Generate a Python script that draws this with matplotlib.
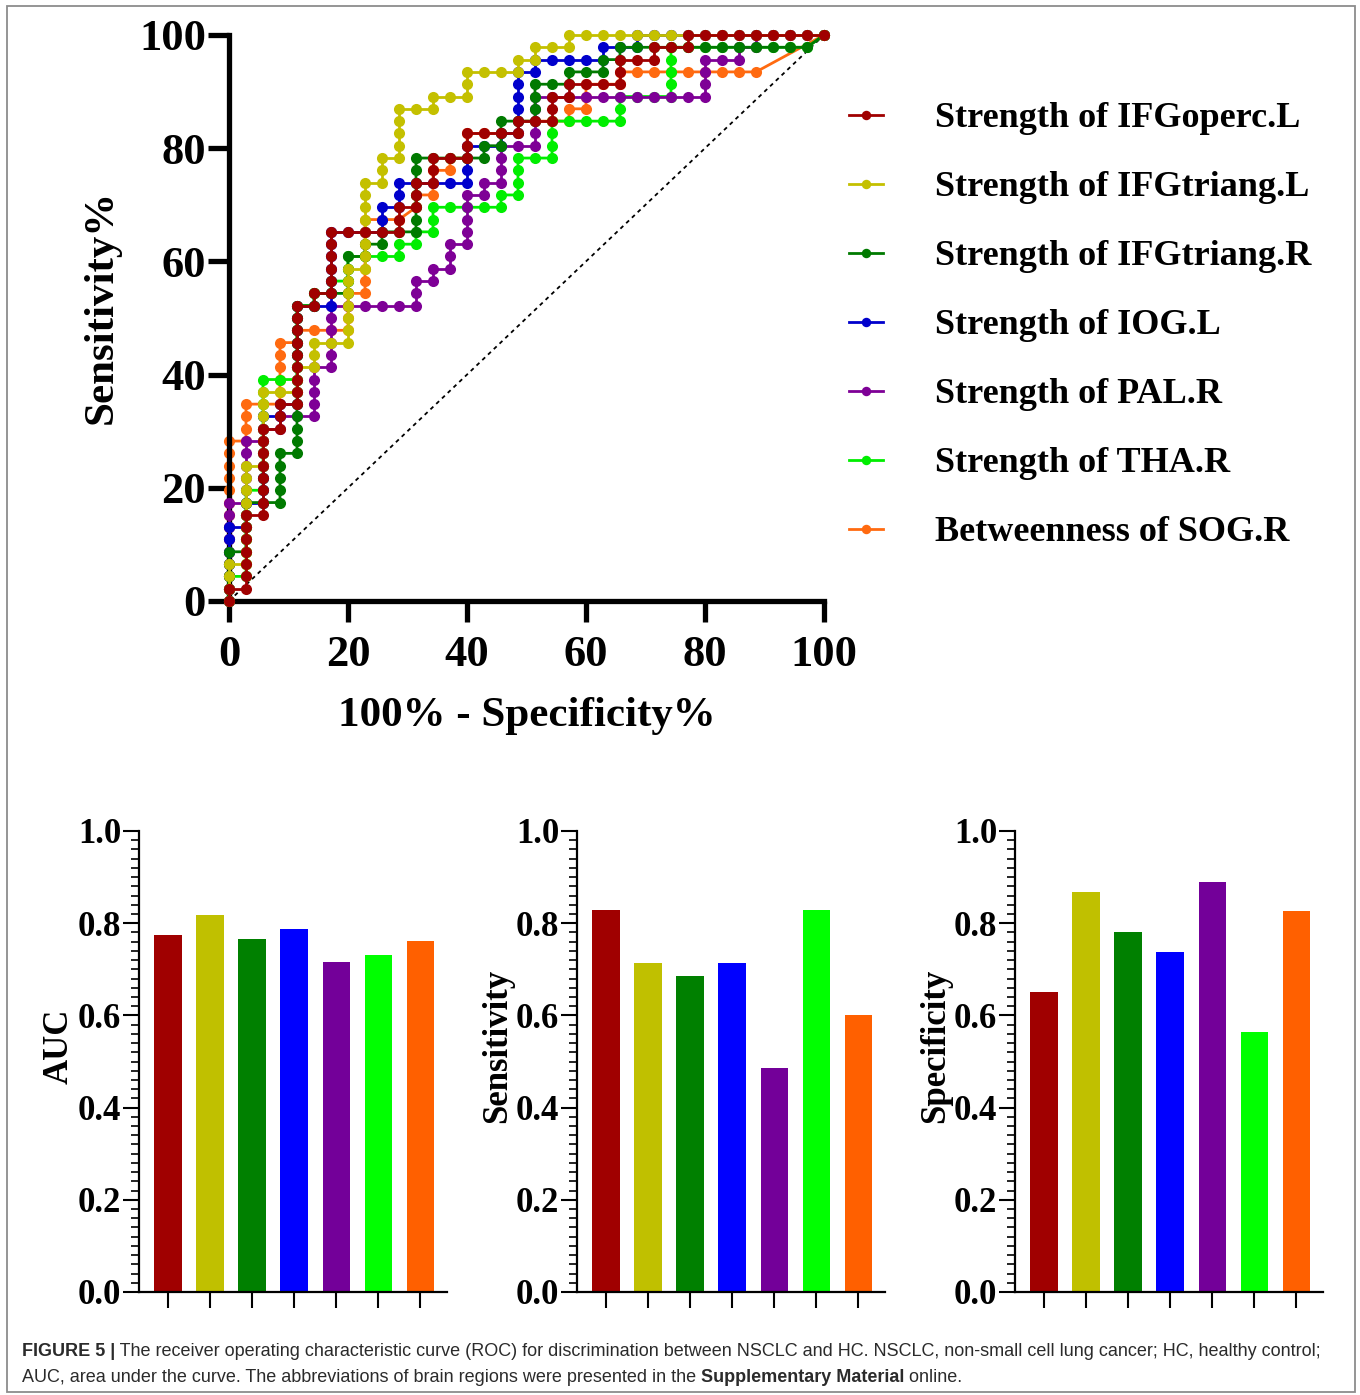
import matplotlib
matplotlib.use('Agg')
import matplotlib.pyplot as plt
from matplotlib.ticker import MultipleLocator, FormatStrFormatter
from matplotlib.patches import Rectangle
import numpy as np

# ---------------- data ----------------
N_HC = 35   # healthy controls -> one step along x
N_PT = 46   # patients -> one step along y

series_names = [
    "Strength of IFGoperc.L",
    "Strength of IFGtriang.L",
    "Strength of IFGtriang.R",
    "Strength of IOG.L",
    "Strength of PAL.R",
    "Strength of THA.R",
    "Betweenness of SOG.R",
]
line_colors = ['#A00000', '#C4C000', '#007A00', '#0000CC', '#7E0096', '#00EE00', '#FF6A10']
bar_colors = ['#A00000', '#C0C000', '#008000', '#0000FF', '#730099', '#00FF00', '#FF6000']

# ROC curves: one character per plotted point
# U = next patient (sensitivity step), R = next control (1-specificity step),
# D = both, J = tied jump (4 controls, 3 patients)
roc_ifgoperc_l = ("U R UUUUUU R UUUUUUU R UU R UUUUUUUU R U R UUUUU RRRR UU R UU R UU RR UU "
                  "RRR U RR UU R U RRR UU RR U RR U RRRRRRRR")
roc_ifgtriang_l = ("UUU R UUUUUUUU R UUUUUU R R UU R UU RR UUUUUU R UUUUUUU R UU R UUUU RR U RR "
                   "UU RRR U R U RR U RRRRRRRRRRRRRRR")
roc_ifgtriang_r = ("UUUU R UUUU R R UUUU R UUUUUUUUUUUU R U RR UUU R U R U RR UUUUUU RRRR U R UU "
                   "RR UUU RR U RR U R U RRRRRRRRRRR D")
roc_iog_l = ("UUUUUU R UU R UUUUUUU R U R UUUUUUUU RR UUUUUU RRR UU R UU RRRR UUU RR U R "
             "UUUUU R U RRRR U RR U RRRRRRRRRRR")
roc_pal_r = ("UUUUUUUU R UUUUU R U R U RR UUUU R UUUUU RRRRR UU R U R UU R UUUU R U R UUU "
             "RR UUUU RRRRRRRRRR UUU RR U R U RRRR")
roc_tha_r = ("UU R UUUUUUU R UUUUUUUUU RR UUUUUU R U R U R UU RRR U R U R UU RRRR U R UUU "
             "RR UUU RRRR UU RRR UUUU RRRRRRRR D")
roc_sog_r = ("UUUUUUUUUUUUU R UUU RR UUUUU R U RRR UUU R UUUUUU RR D U R UU R U R UU RRR U "
             "RRR U R UU RR U RRRRRRRR J")
roc_moves = [roc_ifgoperc_l, roc_ifgtriang_l, roc_ifgtriang_r, roc_iog_l,
             roc_pal_r, roc_tha_r, roc_sog_r]
draw_order = [7, 6, 5, 4, 3, 2, 1]   # red on top, orange at the bottom

chance_line = [0, 100]

auc = [0.775, 0.818, 0.766, 0.787, 0.715, 0.732, 0.761]
sensitivity = [0.828, 0.713, 0.685, 0.713, 0.485, 0.828, 0.600]
specificity = [0.650, 0.867, 0.780, 0.737, 0.889, 0.563, 0.826]

roc_ticks = [0, 20, 40, 60, 80, 100]

# ---------------- helpers ----------------
STEP = {'U': (0, 1), 'R': (1, 0), 'D': (1, 1), 'J': (4, 3)}


def roc_points(moves):
    fp, tp = [0], [0]
    for ch in moves.replace(' ', ''):
        dx, dy = STEP[ch]
        fp.append(fp[-1] + dx)
        tp.append(tp[-1] + dy)
    return np.array(fp) * 100.0 / N_HC, np.array(tp) * 100.0 / N_PT


plt.rcParams['font.family'] = ['Liberation Serif', 'DejaVu Serif']
plt.rcParams['font.weight'] = 'bold'

W, H = 1360, 1395
fig = plt.figure(figsize=(W / 100, H / 100), dpi=100)


def fx(px):
    return px / W


def fy(py):
    return 1 - py / H


# ---------------- ROC panel ----------------
ax = fig.add_axes([fx(229), fy(601), fx(824) - fx(229), fy(35) - fy(601)])
ax.set_xlim(0, 100)
ax.set_ylim(0, 100)
ax.plot(chance_line, chance_line, color='black', lw=1.3, ls=(0, (2.2, 2.2)), zorder=1)

handles = []
for name, col, moves, z in zip(series_names, line_colors, roc_moves, draw_order):
    x, y = roc_points(moves)
    h, = ax.plot(x, y, '-o', color=col, lw=2.0, ms=8.0, mec=col, mew=0,
                 zorder=z + 1, clip_on=False, label=name)
    handles.append(h)

for s in ['top', 'right']:
    ax.spines[s].set_visible(False)
for s in ['left', 'bottom']:
    ax.spines[s].set_linewidth(3.8)
    ax.spines[s].set_capstyle('projecting')
ax.set_xticks(roc_ticks)
ax.set_yticks(roc_ticks)
ax.tick_params(axis='both', which='major', direction='out', length=15, width=3.8,
               labelsize=32)
ax.tick_params(axis='y', pad=1.5)
ax.tick_params(axis='x', pad=9.5)
ax.set_xlabel('100% - Specificity%', fontsize=31, fontweight='bold')
ax.set_ylabel('Sensitivity%', fontsize=31, fontweight='bold')
ax.xaxis.set_label_coords(0.5, -0.17)
ax.yaxis.set_label_coords(-0.182, 0.52)

fig.legend(handles, series_names, loc='upper left',
           bbox_to_anchor=(fx(849), fy(102)), frameon=False, fontsize=26,
           handlelength=0.94, handletextpad=1.44, labelspacing=0.99,
           borderaxespad=0, borderpad=0, markerscale=0.85)

# ---------------- bar panels ----------------
bar_panels = [(139, 'AUC', auc), (577, 'Sensitivity', sensitivity),
              (1015, 'Specificity', specificity)]
xpos = np.arange(len(series_names))
for left_px, label, vals in bar_panels:
    bx = fig.add_axes([fx(left_px), fy(1292), fx(308), fy(831) - fy(1292)])
    bx.bar(xpos, vals, width=0.645, color=bar_colors, edgecolor='none', zorder=2)
    bx.set_xlim(-0.69, 6.64)
    bx.set_ylim(0, 1.0)
    for s in ['top', 'right']:
        bx.spines[s].set_visible(False)
    for s in ['left', 'bottom']:
        bx.spines[s].set_linewidth(1.6)
    bx.set_xticks(xpos)
    bx.set_xticklabels([])
    bx.yaxis.set_major_locator(MultipleLocator(0.2))
    bx.yaxis.set_minor_locator(MultipleLocator(0.02))
    bx.yaxis.set_major_formatter(FormatStrFormatter('%.1f'))
    bx.tick_params(axis='y', which='major', direction='out', length=11.5, width=1.5,
                   labelsize=25, pad=1.2)
    bx.tick_params(axis='y', which='minor', direction='out', length=5.8, width=1.2)
    bx.tick_params(axis='x', which='major', direction='out', length=11.5, width=1.5)
    bx.set_ylabel(label, fontsize=25, fontweight='bold')
    bx.yaxis.set_label_coords(-0.205, 0.533)

# ---------------- caption and frame ----------------
fig.add_artist(Rectangle((fx(7), fy(1392)), fx(1355) - fx(7), fy(6) - fy(1392),
                         transform=fig.transFigure, fill=False, edgecolor='#8c8c8c', lw=1.3))

renderer = fig.canvas.get_renderer()


def put_runs(x_px, y_px, runs):
    x = fx(x_px)
    for s, wgt in runs:
        t = fig.text(x, fy(y_px), s, fontsize=13.0, fontweight=wgt,
                     family=['Liberation Sans', 'DejaVu Sans'],
                     va='center', ha='left', color='#2b2b2b')
        bb = t.get_window_extent(renderer=renderer)
        x = bb.x1 / fig.bbox.width


put_runs(22, 1352, [("FIGURE 5 |", 'bold'),
                    (" The receiver operating characteristic curve (ROC) for discrimination between "
                     "NSCLC and HC. NSCLC, non-small cell lung cancer; HC, healthy control;", 'normal')])
put_runs(22, 1377, [("AUC, area under the curve. The abbreviations of brain regions were presented in the ",
                     'normal'),
                    ("Supplementary Material", 'bold'), (" online.", 'normal')])

fig.savefig('out.png', dpi=100)
